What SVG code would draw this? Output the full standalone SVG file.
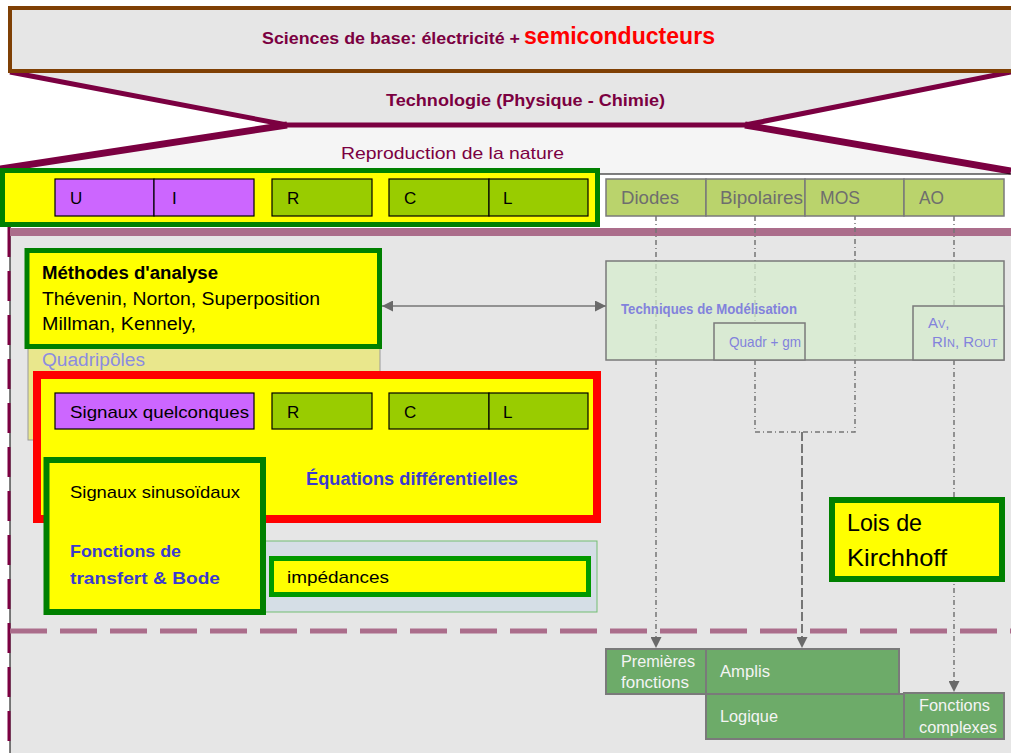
<svg xmlns="http://www.w3.org/2000/svg" width="1011" height="753" viewBox="0 0 1011 753">
<style>
text{font-family:"Liberation Sans",Arial,sans-serif}
.maroon{fill:#7b0041}
.blk{fill:#000}
.vio{fill:#cc66ff;stroke:#000;stroke-width:1.2}
.grn{fill:#99cc00;stroke:#000;stroke-width:1.2}
.semi{fill:#bad36c;stroke:#7a7a7a;stroke-width:1.5}
.semit{fill:#6e6e6e;font-size:19px}
.ybox{fill:#ffff00;stroke:#008000}
.lbl{font-size:17px;fill:#000}
.blue{fill:#3b3bcf;font-weight:bold}
.lav{fill:#8282dc}
.out{fill:#6dab69;stroke:#7a7a7a;stroke-width:2}
.outt{fill:#f4f4f4;font-size:16px}
.dd{fill:none;stroke:#767676;stroke-width:1.5;stroke-dasharray:5 3 1 3}
.fl{fill:none;stroke:#7b0041}
</style>
<defs>
<marker id="arr" viewBox="0 0 10 10" refX="10" refY="5" markerWidth="11" markerHeight="11" markerUnits="userSpaceOnUse" orient="auto-start-reverse">
<path d="M0,0 L10,5 L0,10 z" fill="#6a6a6a"/>
</marker>
</defs>
<rect width="1011" height="753" fill="#fff"/>
<g id="funnel">
<polygon points="287,125 745,125 1011,170 1011,174 0,174 0,170" fill="#f5f5f5"/>
<polygon points="10,72 1011,72 745,125 287,125" fill="#e6e6e6"/>
<polyline class="fl" stroke-width="5" points="10,72 287,125 745,125 1011,72"/>
<line class="fl" stroke-width="7" x1="287" y1="125" x2="0" y2="169"/>
<line class="fl" stroke-width="7" x1="745" y1="125" x2="1011" y2="171"/>
<line x1="598" y1="174" x2="1011" y2="174" stroke="#000" stroke-width="1"/>
<text x="341" y="159" class="maroon" font-size="17" textLength="223" lengthAdjust="spacingAndGlyphs">Reproduction de la nature</text>
<text x="386" y="106" class="maroon" font-size="17" font-weight="bold" textLength="279" lengthAdjust="spacingAndGlyphs">Technologie (Physique - Chimie)</text>
</g>
<g id="top">
<rect x="10" y="8" width="1010" height="63" fill="#e6e6e6" stroke="#7f4005" stroke-width="4"/>
<text x="262" y="44" class="maroon" font-size="17" font-weight="bold" textLength="258" lengthAdjust="spacingAndGlyphs">Sciences de base: électricité + </text>
<text x="524" y="44" fill="#ff0000" font-size="23" font-weight="bold" textLength="191" lengthAdjust="spacingAndGlyphs">semiconducteurs</text>
</g>
<g id="main-region">
<rect x="10" y="228" width="1001" height="525" fill="#e6e6e6"/>
<line x1="10" y1="225" x2="10" y2="753" stroke="#000" stroke-width="1"/>
<line x1="9" y1="227" x2="9" y2="753" stroke="#7b0041" stroke-width="3" stroke-dasharray="30 14"/>
<line x1="10" y1="232" x2="1011" y2="232" stroke="#ab6d8b" stroke-width="8"/>
<line x1="10" y1="631" x2="1011" y2="631" stroke="#ab6d8b" stroke-width="5" stroke-dasharray="37 13"/>
</g>
<g id="uirc">
<rect x="2.5" y="170.5" width="595" height="54" class="ybox" stroke-width="5"/>
<rect x="55" y="179" width="99" height="37" class="vio"/>
<rect x="154" y="179" width="100" height="37" class="vio"/>
<rect x="272" y="179" width="100" height="37" class="grn"/>
<rect x="389" y="179" width="100" height="37" class="grn"/>
<rect x="489" y="179" width="99" height="37" class="grn"/>
<text x="70" y="204" class="lbl">U</text>
<text x="172" y="204" class="lbl">I</text>
<text x="287" y="204" class="lbl">R</text>
<text x="404" y="204" class="lbl">C</text>
<text x="503" y="204" class="lbl">L</text>
</g>
<g id="semis">
<rect x="606" y="179" width="100" height="37" class="semi"/>
<rect x="706" y="179" width="99" height="37" class="semi"/>
<rect x="805" y="179" width="99" height="37" class="semi"/>
<rect x="904" y="179" width="100" height="37" class="semi"/>
<text x="621" y="204" class="semit" textLength="58" lengthAdjust="spacingAndGlyphs">Diodes</text>
<text x="720" y="204" class="semit" textLength="83" lengthAdjust="spacingAndGlyphs">Bipolaires</text>
<text x="820" y="204" class="semit" textLength="40" lengthAdjust="spacingAndGlyphs">MOS</text>
<text x="919" y="204" class="semit" textLength="25" lengthAdjust="spacingAndGlyphs">AO</text>
</g>
<g id="connectors">
<line class="dd" x1="656" y1="216" x2="656" y2="648" marker-end="url(#arr)"/>
<polyline class="dd" points="755,216 755,432 855,432 855,216"/>
<line x1="802" y1="432" x2="802" y2="648" fill="none" stroke="#767676" stroke-width="2" stroke-dasharray="9 3" marker-end="url(#arr)"/>
<line class="dd" x1="954" y1="216" x2="954" y2="692" marker-end="url(#arr)"/>
<line x1="382" y1="306" x2="606" y2="306" stroke="#767676" stroke-width="1.5" marker-start="url(#arr)" marker-end="url(#arr)"/>
</g>
<g id="techniques">
<rect x="606" y="261" width="398" height="99" fill="#d5ecce" fill-opacity="0.75" stroke="#7a7a7a" stroke-width="1.5"/>
<rect x="714" y="323" width="91" height="37" fill="#d9ead3" stroke="#7a7a7a" stroke-width="1.5"/>
<rect x="913" y="306" width="91" height="54" fill="#d9ead3" stroke="#7a7a7a" stroke-width="1.5"/>
<text x="621" y="314" class="lav" font-size="15" font-weight="bold" textLength="176" lengthAdjust="spacingAndGlyphs">Techniques de Modélisation</text>
<text x="729" y="347" class="lav" font-size="15" textLength="72" lengthAdjust="spacingAndGlyphs">Quadr + gm</text>
<text x="928" y="328" class="lav" font-size="15">A<tspan font-size="11">V</tspan>,</text>
<text x="932" y="347" class="lav" font-size="15">RI<tspan font-size="11">N</tspan>, R<tspan font-size="11">OUT</tspan></text>
</g>
<g id="quadripoles">
<rect x="28" y="252" width="352" height="188" fill="#e9e78c" stroke="#9a9a9a" stroke-width="1"/>
<text x="42" y="366" fill="#8c8ce0" font-size="18" textLength="103" lengthAdjust="spacingAndGlyphs">Quadripôles</text>
</g>
<g id="methodes">
<rect x="27" y="250.5" width="352.5" height="96" class="ybox" stroke-width="5"/>
<text x="42" y="279" font-size="18" font-weight="bold" class="blk" textLength="176" lengthAdjust="spacingAndGlyphs">Méthodes d'analyse</text>
<text x="42" y="305" font-size="18" class="blk" textLength="278" lengthAdjust="spacingAndGlyphs">Thévenin, Norton, Superposition</text>
<text x="42" y="330" font-size="18" class="blk" textLength="154" lengthAdjust="spacingAndGlyphs">Millman, Kennely,</text>
</g>
<g id="equations">
<rect x="37" y="375" width="560" height="144" fill="#ffff00" stroke="#ff0000" stroke-width="8"/>
<rect x="55" y="393" width="199" height="36" class="vio"/>
<rect x="272" y="393" width="100" height="36" class="grn"/>
<rect x="389" y="393" width="100" height="36" class="grn"/>
<rect x="489" y="393" width="99" height="36" class="grn"/>
<text x="70" y="418" class="lbl" textLength="179" lengthAdjust="spacingAndGlyphs">Signaux quelconques</text>
<text x="287" y="418" class="lbl">R</text>
<text x="404" y="418" class="lbl">C</text>
<text x="503" y="418" class="lbl">L</text>
<text x="306" y="485" class="blue" font-size="18" textLength="212" lengthAdjust="spacingAndGlyphs">Équations différentielles</text>
</g>
<g id="impedances">
<rect x="265" y="541" width="332" height="71" fill="#d5dee6" stroke="#72bd72" stroke-width="1"/>
<rect x="271.5" y="558.5" width="317" height="36" fill="#ffff00" stroke="#009900" stroke-width="5"/>
<text x="287" y="583" class="lbl" textLength="102" lengthAdjust="spacingAndGlyphs">impédances</text>
</g>
<g id="sinus">
<rect x="46.5" y="460" width="216.5" height="152" class="ybox" stroke-width="6"/>
<text x="70" y="498" class="lbl" textLength="170" lengthAdjust="spacingAndGlyphs">Signaux sinusoïdaux</text>
<text x="70" y="557" class="blue" font-size="17" textLength="111" lengthAdjust="spacingAndGlyphs">Fonctions de</text>
<text x="70" y="584" class="blue" font-size="17" textLength="150" lengthAdjust="spacingAndGlyphs">transfert  &amp; Bode</text>
</g>
<g id="kirchhoff">
<rect x="832" y="500" width="170" height="79" class="ybox" stroke-width="6"/>
<text x="847" y="531" font-size="24" class="blk" textLength="75" lengthAdjust="spacingAndGlyphs">Lois de</text>
<text x="847" y="566" font-size="24" class="blk" textLength="100" lengthAdjust="spacingAndGlyphs">Kirchhoff</text>
</g>
<g id="outputs">
<rect x="606" y="649" width="100" height="45" class="out"/>
<rect x="706" y="649" width="193" height="45" class="out"/>
<rect x="706" y="694" width="198" height="45" class="out"/>
<rect x="904" y="693" width="100" height="46" class="out"/>
<text x="621" y="667" class="outt" textLength="74" lengthAdjust="spacingAndGlyphs">Premières</text>
<text x="621" y="688" class="outt" textLength="68" lengthAdjust="spacingAndGlyphs">fonctions</text>
<text x="720" y="677" class="outt" textLength="50" lengthAdjust="spacingAndGlyphs">Amplis</text>
<text x="720" y="722" class="outt" textLength="58" lengthAdjust="spacingAndGlyphs">Logique</text>
<text x="919" y="711" class="outt" textLength="71" lengthAdjust="spacingAndGlyphs">Fonctions</text>
<text x="919" y="733" class="outt" textLength="78" lengthAdjust="spacingAndGlyphs">complexes</text>
</g>
</svg>
